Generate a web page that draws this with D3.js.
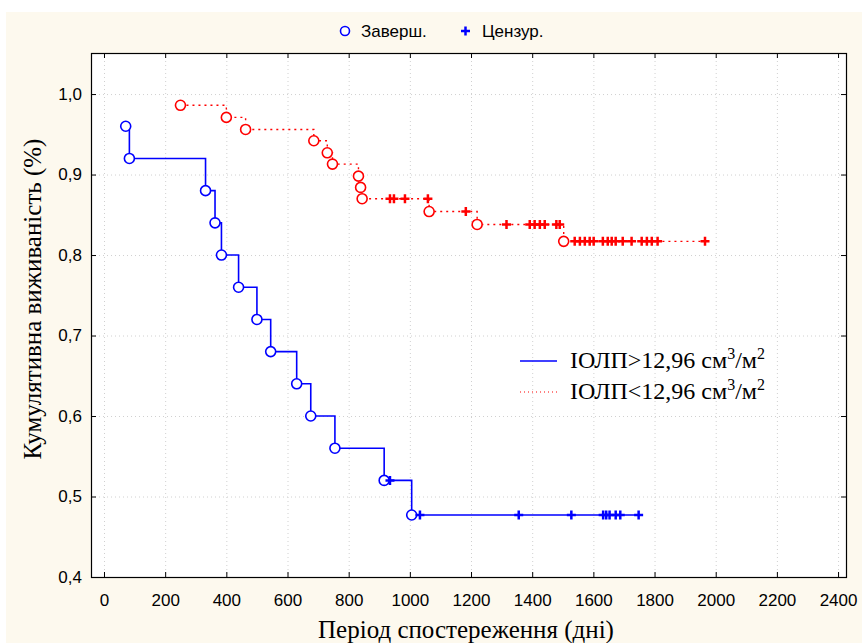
<!DOCTYPE html>
<html>
<head>
<meta charset="utf-8">
<script src="https://cdn.jsdelivr.net/npm/d3@7"></script>
<style>
  body { margin: 0; background: #fff; }
  svg { display: block; }
  .tick text { font-family: "Liberation Sans Narrow", "Liberation Sans", Arial, sans-serif; font-size: 17px; fill: #000; }
</style>
</head>
<body>
<svg id="chart" width="862" height="643"></svg>
<script>
// Kaplan-Meier curve, group 1 (IOLP > 12.96)
const blueTimes = [71, 83, 332, 363, 384, 440, 500, 545, 630, 676, 755, 916, 935, 1006, 1033, 1356, 1528, 1632, 1642, 1653, 1673, 1688, 1748];
const blueSurv = [0.96, 0.92, 0.88, 0.84, 0.80, 0.76, 0.72, 0.68, 0.64, 0.60, 0.56, 0.52, 0.52, 0.477, 0.477, 0.477, 0.477, 0.477, 0.477, 0.477, 0.477, 0.477, 0.477];
const blueCensored = [0, 0, 0, 0, 0, 0, 0, 0, 0, 0, 0, 0, 1, 0, 1, 1, 1, 1, 1, 1, 1, 1, 1];

// group 2 (IOLP < 12.96)
const redTimes = [250, 400, 463, 686, 730, 747, 832, 839, 844, 935, 948, 984, 1059, 1063, 1183, 1220, 1316, 1392, 1408, 1425, 1441, 1479, 1490, 1503,
  1539, 1556, 1572, 1588, 1601, 1631, 1647, 1660, 1673, 1696, 1725, 1758, 1775, 1791, 1810, 1965];
const redSurv = [0.986, 0.971, 0.956, 0.942, 0.927, 0.913, 0.898, 0.884, 0.870, 0.870, 0.870, 0.870, 0.870, 0.854, 0.854, 0.838,
  0.838, 0.838, 0.838, 0.838, 0.838, 0.838, 0.838, 0.817,
  0.817, 0.817, 0.817, 0.817, 0.817, 0.817, 0.817, 0.817, 0.817, 0.817, 0.817, 0.817, 0.817, 0.817, 0.817, 0.817];
const redCensored = [0, 0, 0, 0, 0, 0, 0, 0, 0, 1, 1, 1, 1, 0, 1, 0, 1, 1, 1, 1, 1, 1, 1, 0,
  1, 1, 1, 1, 1, 1, 1, 1, 1, 1, 1, 1, 1, 1, 1, 1];

const xTicks = d3.range(0, 2401, 200);
const yTicks = [0.4, 0.5, 0.6, 0.7, 0.8, 0.9, 1.0];

const W = 862, H = 643;
const plot = { left: 91, right: 846, top: 53, bottom: 577 };
const blue = "#0000ff", red = "#ff0000";
const serif = "Liberation Serif, Times New Roman, serif";

const svg = d3.select("#chart");

// cream page background
svg.append("rect")
  .attr("x", 6).attr("y", 12)
  .attr("width", W - 6).attr("height", H - 12)
  .attr("fill", "#fdf9ee");

const xScale = d3.scaleLinear().domain([-42.5, 2426]).range([plot.left, plot.right]);
const yScale = d3.scaleLinear().domain([0.4, 1.051]).range([plot.bottom, plot.top]);

svg.append("rect")
  .attr("x", plot.left).attr("y", plot.top)
  .attr("width", plot.right - plot.left).attr("height", plot.bottom - plot.top)
  .attr("fill", "#fff");

// dotted grid
const grid = svg.append("g").attr("stroke", "#d0d0d0").attr("stroke-dasharray", "1,3");
grid.selectAll(".gx").data(xTicks).enter().append("line")
  .attr("x1", (d) => xScale(d) + 0.5).attr("x2", (d) => xScale(d) + 0.5)
  .attr("y1", plot.top).attr("y2", plot.bottom);
grid.selectAll(".gy").data(yTicks.slice(1)).enter().append("line")
  .attr("y1", (d) => yScale(d) + 0.5).attr("y2", (d) => yScale(d) + 0.5)
  .attr("x1", plot.left).attr("x2", plot.right);

// axes with inward ticks
const fmt = (d) => d3.format(".1f")(d).replace(".", ",");
const xAxis = svg.append("g")
  .attr("transform", `translate(0,${plot.bottom})`)
  .call(d3.axisBottom(xScale).tickValues(xTicks).tickFormat(d3.format("d"))
    .tickSizeInner(-5).tickSizeOuter(0).tickPadding(17));
const xAxisTop = svg.append("g")
  .attr("transform", `translate(0,${plot.top})`)
  .call(d3.axisTop(xScale).tickValues(xTicks).tickSizeInner(-5).tickSizeOuter(0).tickFormat(""));
const yAxis = svg.append("g")
  .attr("transform", `translate(${plot.left},0)`)
  .call(d3.axisLeft(yScale).tickValues(yTicks).tickFormat(fmt).tickSizeInner(-5).tickSizeOuter(0).tickPadding(9));
const yAxisRight = svg.append("g")
  .attr("transform", `translate(${plot.right},0)`)
  .call(d3.axisRight(yScale).tickValues(yTicks).tickSizeInner(-5).tickSizeOuter(0).tickFormat(""));
[xAxis, xAxisTop, yAxis, yAxisRight].forEach((a) => {
  a.select(".domain").remove();
  a.selectAll(".tick line").attr("stroke", "#000");
});

svg.append("rect")
  .attr("x", plot.left + 0.5).attr("y", plot.top + 0.5)
  .attr("width", plot.right - plot.left).attr("height", plot.bottom - plot.top)
  .attr("fill", "none").attr("stroke", "#000").attr("stroke-width", 1.2);

// survival curves
function drawCurve(times, surv, cens, color, dash) {
  const rows = times.map((t, i) => ({ t: t, s: surv[i], c: cens[i] }));
  const line = d3.line()
    .x((d) => xScale(d.t))
    .y((d) => yScale(d.s))
    .curve(d3.curveStepAfter);
  svg.append("path")
    .datum(rows)
    .attr("d", line)
    .attr("fill", "none")
    .attr("stroke", color)
    .attr("stroke-width", dash ? 1.4 : 1.6)
    .attr("stroke-dasharray", dash);

  svg.selectAll(null).data(rows.filter((d) => d.c === 0)).enter().append("circle")
    .attr("cx", (d) => xScale(d.t))
    .attr("cy", (d) => yScale(d.s))
    .attr("r", 5)
    .attr("fill", "#fff")
    .attr("stroke", color)
    .attr("stroke-width", 1.6);

  svg.selectAll(null).data(rows.filter((d) => d.c === 1)).enter().append("path")
    .attr("d", (d) => {
      const x = xScale(d.t), y = yScale(d.s);
      return `M${x - 4.5},${y}H${x + 4.5}M${x},${y - 4.5}V${y + 4.5}`;
    })
    .attr("stroke", color)
    .attr("stroke-width", 2.5);
}
drawCurve(redTimes, redSurv, redCensored, red, "2,4");
drawCurve(blueTimes, blueSurv, blueCensored, blue, null);

// top legend
const topLeg = svg.append("g").attr("font-family", "Liberation Sans Narrow, Liberation Sans, Arial, sans-serif").attr("font-size", 17);
topLeg.append("circle").attr("cx", 345).attr("cy", 31).attr("r", 4.5)
  .attr("fill", "#fff").attr("stroke", blue).attr("stroke-width", 1.6);
topLeg.append("text").attr("x", 361).attr("y", 37).text("Заверш.");
topLeg.append("path").attr("d", "M461,31H470M465.5,26.5V35.5").attr("stroke", blue).attr("stroke-width", 2.5);
topLeg.append("text").attr("x", 482).attr("y", 37).text("Цензур.");

// inner legend
const leg = svg.append("g").attr("font-family", serif).attr("font-size", 24);
function legendItem(y, color, dash, sign) {
  leg.append("line").attr("x1", 520).attr("x2", 557).attr("y1", y).attr("y2", y)
    .attr("stroke", color).attr("stroke-width", dash ? 1.2 : 1.4).attr("stroke-dasharray", dash);
  const t = leg.append("text").attr("x", 570).attr("y", y + 7);
  t.append("tspan").text(`ІОЛП${sign}12,96 см`);
  t.append("tspan").attr("dy", -9).attr("font-size", 16).text("3");
  t.append("tspan").attr("dy", 9).text("/м");
  t.append("tspan").attr("dy", -9).attr("font-size", 16).text("2");
}
legendItem(361, blue, null, ">");
legendItem(392, red, "1,3", "<");

// axis titles
svg.append("text")
  .attr("x", 466).attr("y", 638)
  .attr("text-anchor", "middle")
  .attr("font-family", serif)
  .attr("font-size", 25)
  .text("Період спостереження (дні)");
svg.append("text")
  .attr("transform", "translate(41,299) rotate(-90)")
  .attr("text-anchor", "middle")
  .attr("font-family", serif)
  .attr("font-size", 25)
  .text("Кумулятивна виживаність (%)");
</script>
</body>
</html>
